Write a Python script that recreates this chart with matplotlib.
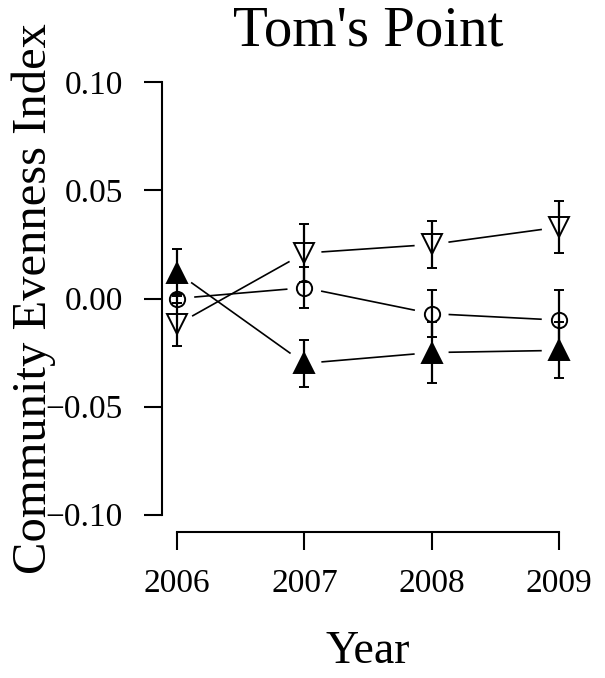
import numpy as np
import matplotlib
matplotlib.use("Agg")
import matplotlib.pyplot as plt

# dane
lata = [2006, 2007, 2008, 2009]

tr_otw = [-0.012, 0.021, 0.025, 0.033]       # trojkat pusty (w dol)
tr_otw_se = [0.010, 0.0135, 0.011, 0.012]

kolo = [0.000, 0.005, -0.007, -0.010]        # kolko
kolo_se = [0.002, 0.0095, 0.011, 0.014]

tr_pel = [0.012, -0.030, -0.025, -0.024]     # trojkat pelny (w gore)
tr_pel_se = [0.011, 0.011, 0.014, 0.013]

y_ticks = [-0.10, -0.05, 0.00, 0.05, 0.10]

plt.rcParams['font.family'] = ['Liberation Serif', 'DejaVu Serif']

W, H = 605, 678
fig = plt.figure(figsize=(W / 100, H / 100), dpi=100)
ax = fig.add_axes([162 / W, (H - 532) / H, (574 - 162) / W, (532 - 65) / H])

ax.set_xlim(2006 - 0.12, 2009 + 0.12)
ax.set_ylim(-0.108, 0.108)


def linia_z_przerwami(x, y, gap=17):
    # odcinki miedzy punktami skrocone jak w R (type = "b")
    pts = ax.transData.transform(np.column_stack([x, y]))
    inv = ax.transData.inverted()
    for a, b in zip(pts[:-1], pts[1:]):
        d = b - a
        u = d / np.hypot(*d)
        seg = inv.transform(np.array([a + u * gap, b - u * gap]))
        ax.plot(seg[:, 0], seg[:, 1], color='black', lw=1.2, solid_capstyle='butt')


for y in (tr_otw, kolo, tr_pel):
    linia_z_przerwami(lata, y)

styl_err = dict(ls='none', ecolor='black', elinewidth=1.6, capsize=3.5, capthick=1.6)
ax.errorbar(lata, tr_otw, yerr=tr_otw_se, marker='v', ms=14, mfc='none',
            mec='black', mew=1.4, **styl_err)
ax.errorbar(lata, kolo, yerr=kolo_se, marker='o', ms=11, mfc='none',
            mec='black', mew=1.4, **styl_err)
ax.errorbar(lata, tr_pel, yerr=tr_pel_se, marker='^', ms=14, mfc='black',
            mec='black', mew=1.4, **styl_err)

# osie w stylu R
for s in ('top', 'right'):
    ax.spines[s].set_visible(False)
ax.spines['left'].set_bounds(-0.10, 0.10)
ax.spines['bottom'].set_bounds(2006, 2009)
for s in ('left', 'bottom'):
    ax.spines[s].set_linewidth(1.5)

ax.set_xticks(lata)
ax.set_xticklabels([str(r) for r in lata])
ax.set_yticks(y_ticks)
ax.set_yticklabels(['\u22120.10', '\u22120.05', '0.00', '0.05', '0.10'])
ax.tick_params(axis='both', length=13, width=1.5, labelsize=24)
ax.tick_params(axis='y', pad=15)
ax.tick_params(axis='x', pad=13)

ax.set_title("Tom's Point", fontsize=41, va='center', pad=0, y=(532 - 31) / 467)
ax.set_xlabel('Year', fontsize=33, va='center')
ax.xaxis.set_label_coords(0.5, (532 - 652) / 467)
ax.set_ylabel('Community Evenness Index', fontsize=35, va='center')
ax.yaxis.set_label_coords((34 - 162) / 412, 0.5)

fig.savefig('out.png', dpi=100)
